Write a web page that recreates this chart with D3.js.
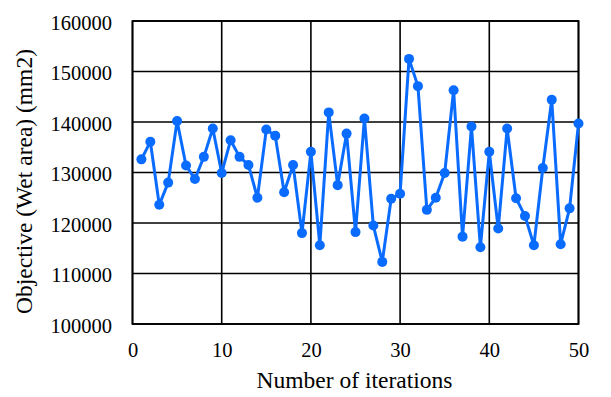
<!DOCTYPE html>
<html>
<head>
<meta charset="utf-8">
<script src="https://cdn.jsdelivr.net/npm/d3@7"></script>
<style>
  body { margin: 0; background: #fff; }
  text { font-family: "Liberation Serif", "Times New Roman", serif; fill: #000; }
</style>
</head>
<body>
<svg id="chart" width="611" height="397"></svg>
<script>
// iteration number (1..50) and objective value
const iterations = d3.range(1, 51);
const wetArea = [
  132600, 136100, 123600, 128000, 140200, 131400, 128700, 133100, 138700, 129900,
  136400, 133100, 131500, 125000, 138500, 137300, 126100, 131500, 118000, 134100,
  115600, 141900, 127500, 137700, 118200, 140700, 119500, 112300, 124800, 125800,
  152500, 147100, 122600, 125000, 129900, 146300, 117300, 139100, 115200, 134100,
  118900, 138700, 124900, 121400, 115600, 130900, 144400, 115800, 122900, 139700
];
const xTicks = [0, 10, 20, 30, 40, 50];
const yTicks = [100000, 110000, 120000, 130000, 140000, 150000, 160000];

const serif = "'Liberation Serif', 'Times New Roman', serif";
const svg = d3.select("#chart");
const margin = {left: 132.5, top: 21, right: 611 - 578.5, bottom: 397 - 324};
const width = 611 - margin.left - margin.right;
const height = 397 - margin.top - margin.bottom;

const g = svg.append("g").attr("transform", `translate(${margin.left},${margin.top})`);

const x = d3.scaleLinear().domain([0, 50]).range([0, width]);
const y = d3.scaleLinear().domain([100000, 160000]).range([height, 0]);

// grid
g.selectAll("line.hgrid").data(yTicks).join("line")
  .attr("class", "hgrid")
  .attr("x1", 0).attr("x2", width)
  .attr("y1", d => y(d)).attr("y2", d => y(d))
  .attr("stroke", "#000").attr("stroke-width", 1.6);
g.selectAll("line.vgrid").data(xTicks).join("line")
  .attr("class", "vgrid")
  .attr("y1", 0).attr("y2", height)
  .attr("x1", d => x(d)).attr("x2", d => x(d))
  .attr("stroke", "#000").attr("stroke-width", 1.6);
g.append("rect")
  .attr("width", width).attr("height", height)
  .attr("fill", "none").attr("stroke", "#000").attr("stroke-width", 1.8);

// axes (labels only)
const xAxis = g.append("g")
  .attr("transform", `translate(0,${height})`)
  .call(d3.axisBottom(x).tickValues(xTicks).tickSize(0).tickPadding(18));
const yAxis = g.append("g")
  .call(d3.axisLeft(y).tickValues(yTicks).tickSize(0).tickPadding(20.5).tickFormat(d3.format("d")));
[xAxis, yAxis].forEach(a => {
  a.attr("font-family", serif).attr("font-size", 20.5);
  a.select(".domain").remove();
  a.selectAll("text").attr("fill", "#000");
});
yAxis.selectAll("text").attr("dy", "0.4em");

// series
const pts = iterations.map((it, i) => [it, wetArea[i]]);
g.append("path")
  .datum(pts)
  .attr("fill", "none")
  .attr("stroke", "#0a6cff")
  .attr("stroke-width", 3)
  .attr("stroke-linejoin", "round")
  .attr("d", d3.line().x(d => x(d[0])).y(d => y(d[1])));
g.selectAll("circle").data(pts).join("circle")
  .attr("cx", d => x(d[0])).attr("cy", d => y(d[1]))
  .attr("r", 5).attr("fill", "#0a6cff");

// axis titles
svg.append("text")
  .attr("x", 354.5).attr("y", 388)
  .attr("text-anchor", "middle")
  .attr("font-family", serif).attr("font-size", 23.5)
  .text("Number of iterations");
svg.append("text")
  .attr("transform", "translate(31.5,181.5) rotate(-90)")
  .attr("text-anchor", "middle")
  .attr("font-family", serif).attr("font-size", 23.5)
  .text("Objective (Wet area) (mm2)");
</script>
</body>
</html>
